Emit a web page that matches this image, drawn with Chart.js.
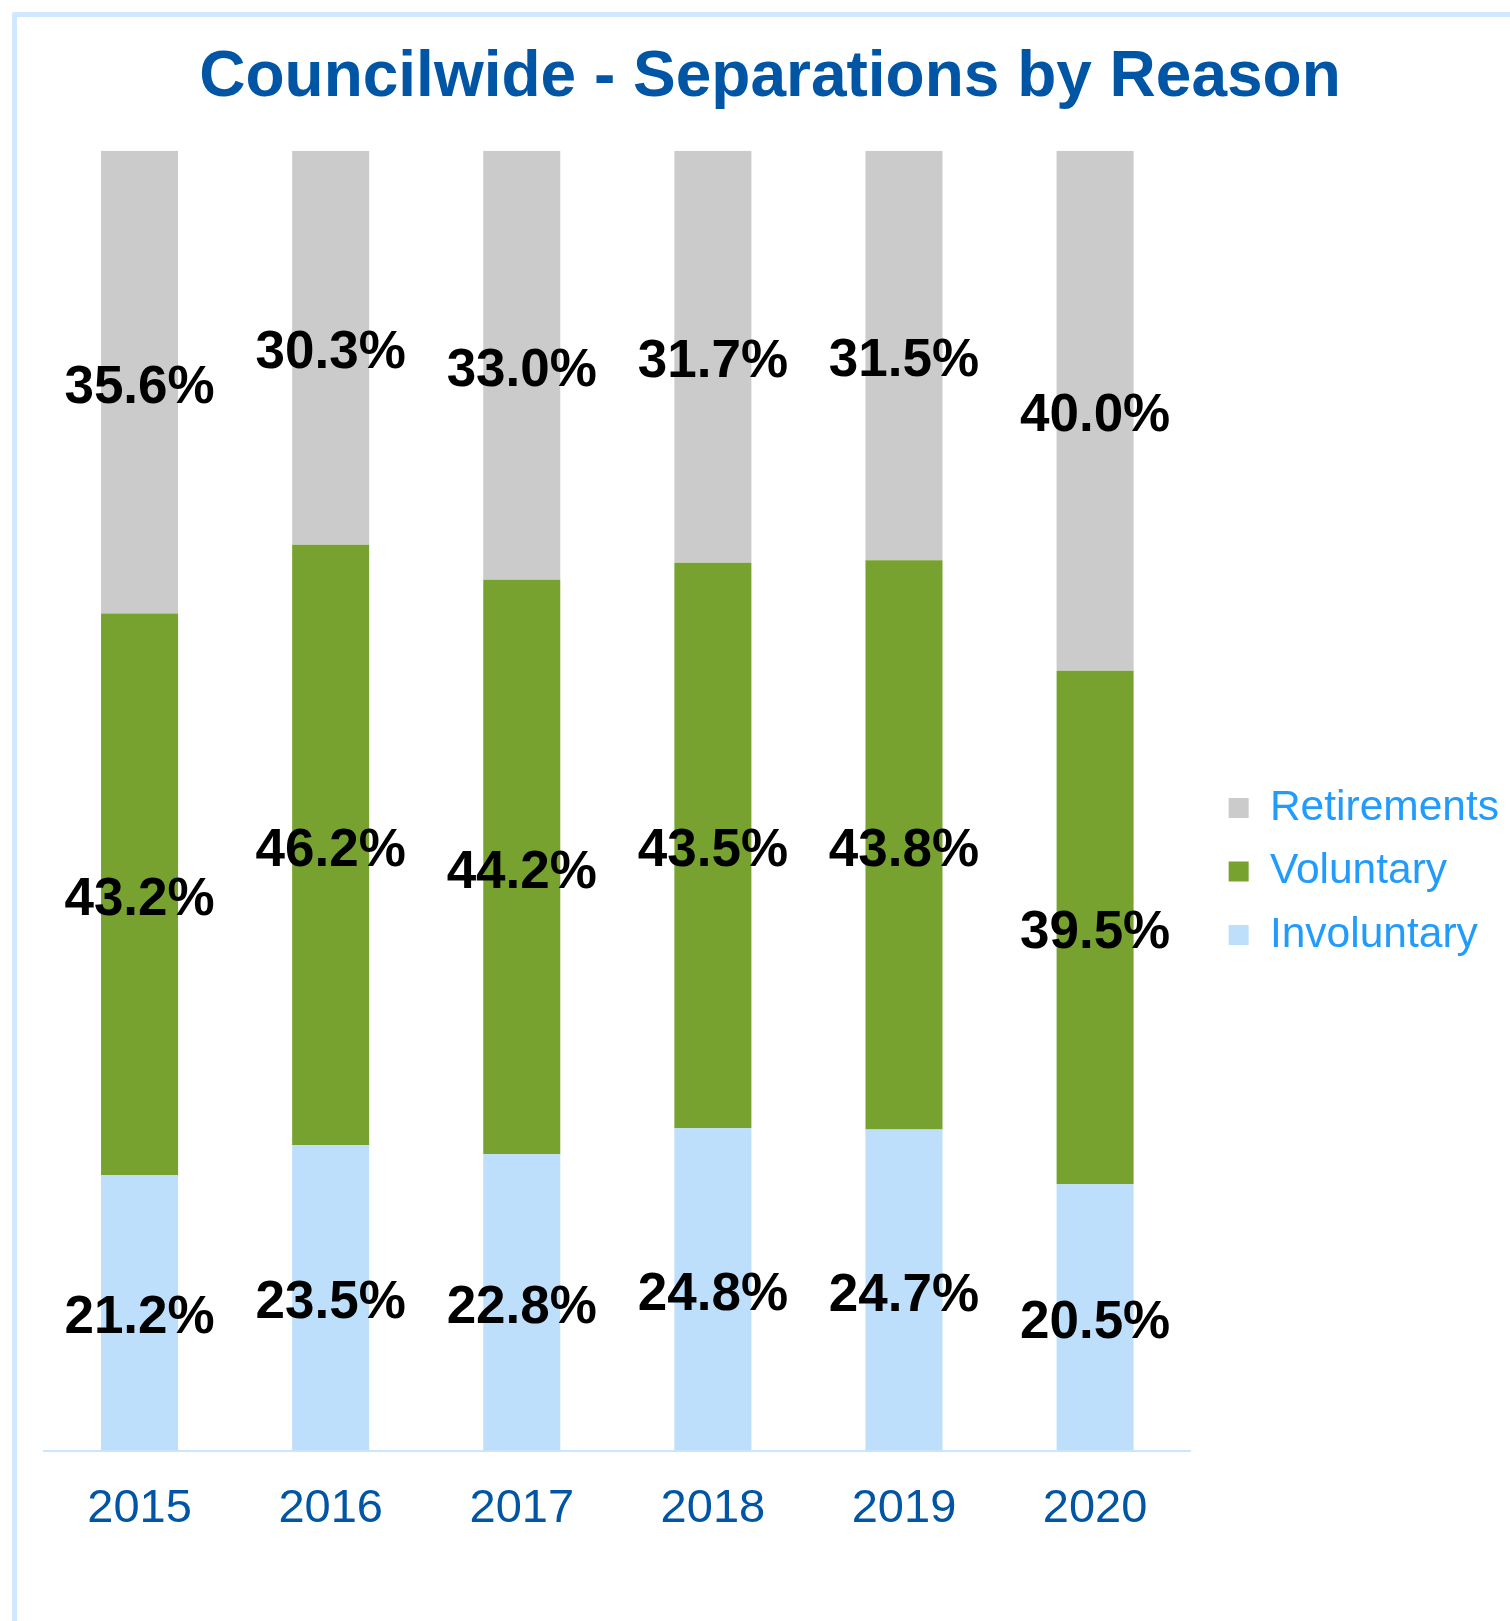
<!DOCTYPE html>
<html>
<head>
<meta charset="utf-8">
<title>Councilwide - Separations by Reason</title>
<script src="https://cdn.jsdelivr.net/npm/chart.js@4"></script>
<style>
  html, body { margin: 0; padding: 0; background: #fff; }
  #frame {
    position: absolute; left: 12px; top: 12px; right: -20px; bottom: -20px;
    border-left: 5px solid #cfe8fe; border-top: 5px solid #cfe8fe;
    border-top-left-radius: 3px;
  }
  #chart { position: absolute; left: 0; top: 0; }
</style>
</head>
<body>
<div id="frame"></div>
<canvas id="chart" width="1510" height="1621"></canvas>
<script>
// values (percent of separations per year)
const years = ['2015', '2016', '2017', '2018', '2019', '2020'];
const involuntary = [21.2, 23.5, 22.8, 24.8, 24.7, 20.5];
const voluntary = [43.2, 46.2, 44.2, 43.5, 43.8, 39.5];
const retirements = [35.6, 30.3, 33.0, 31.7, 31.5, 40.0];

const FONT = '"Liberation Sans", Arial, Helvetica, sans-serif';

// percent labels in the middle of each segment
const barLabels = {
  id: 'barLabels',
  afterDatasetsDraw(chart) {
    const ctx = chart.ctx;
    ctx.save();
    ctx.font = 'bold 53px ' + FONT;
    ctx.fillStyle = '#000';
    ctx.textAlign = 'center';
    ctx.textBaseline = 'middle';
    chart.data.datasets.forEach((ds, i) => {
      chart.getDatasetMeta(i).data.forEach((bar, j) => {
        const y = (bar.y + bar.base) / 2 + 6;
        ctx.fillText(ds.data[j].toFixed(1) + '%', bar.x, y);
      });
    });
    ctx.restore();
  }
};

// nudge the legend block and the title to where they sit in the original
const boxShift = {
  id: 'boxShift',
  afterLayout(chart) {
    const lg = chart.legend;
    if (lg) {
      lg.left += 17; lg.right += 17;
      lg.top += 78; lg.bottom += 78;
    }
    const t = chart.titleBlock;
    if (t) {
      t.left += 2; t.right += 2;
    }
  }
};

new Chart(document.getElementById('chart'), {
  type: 'bar',
  data: {
    labels: years,
    datasets: [
      { label: 'Involuntary', data: involuntary, backgroundColor: '#bddffc' },
      { label: 'Voluntary', data: voluntary, backgroundColor: '#78a22f' },
      { label: 'Retirements', data: retirements, backgroundColor: '#cbcbcb' }
    ]
  },
  options: {
    responsive: false,
    devicePixelRatio: 1,
    animation: false,
    layout: { padding: { left: 44, right: 18, top: 20, bottom: 54 } },
    datasets: {
      bar: { categoryPercentage: 1, barPercentage: 0.403 }
    },
    scales: {
      x: {
        stacked: true,
        grid: { display: false, drawTicks: false },
        border: { color: '#cce6fd', width: 2 },
        ticks: {
          color: '#0055a5',
          padding: 30,
          font: { family: FONT, size: 47 }
        }
      },
      y: {
        stacked: true,
        display: false,
        min: 0,
        max: 100
      }
    },
    plugins: {
      title: {
        display: true,
        text: 'Councilwide - Separations by Reason',
        color: '#0055a5',
        font: { family: FONT, size: 64, weight: 'bold' },
        padding: { top: 20, bottom: 34 }
      },
      legend: {
        position: 'right',
        reverse: true,
        labels: {
          boxWidth: 20,
          boxHeight: 20,
          padding: 21,
          color: '#219bfc',
          font: { family: FONT, size: 42.5 }
        }
      },
      tooltip: { enabled: false }
    }
  },
  plugins: [barLabels, boxShift]
});
</script>
</body>
</html>
